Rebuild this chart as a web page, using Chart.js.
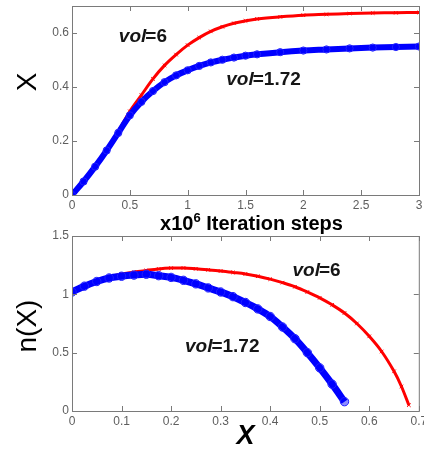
<!DOCTYPE html>
<html>
<head>
<meta charset="utf-8">
<script src="https://cdn.jsdelivr.net/npm/chart.js@4"></script>
<style>
  html, body { margin: 0; padding: 0; background: #fff; }
  #wrap { position: relative; width: 424px; height: 450px; overflow: hidden; }
  canvas { position: absolute; left: 0; }
  #topPlot { top: 0; }
  #bottomPlot { top: 225px; }
</style>
</head>
<body>
<div id="wrap">
  <canvas id="bottomPlot" width="424" height="225"></canvas>
  <canvas id="topPlot" width="424" height="240"></canvas>
</div>
<script>
// conversion X vs iteration steps (x10^6)
const steps = [0, 0.1, 0.2, 0.3, 0.4, 0.5, 0.6, 0.7, 0.8, 0.9, 1.0, 1.1, 1.2, 1.3, 1.4, 1.5, 1.6, 1.8, 2.0, 2.2, 2.4, 2.6, 2.8, 3.0];
const convVol6 = [0, 0.05, 0.105, 0.165, 0.235, 0.31, 0.37, 0.43, 0.48, 0.52, 0.555, 0.583, 0.606, 0.623, 0.636, 0.645, 0.652, 0.66, 0.666, 0.669, 0.672, 0.674, 0.675, 0.676];
const convVol172 = [0, 0.05, 0.105, 0.165, 0.23, 0.295, 0.345, 0.385, 0.418, 0.443, 0.462, 0.478, 0.491, 0.501, 0.509, 0.516, 0.521, 0.529, 0.535, 0.539, 0.543, 0.546, 0.548, 0.55];

// n(X) vs X
const xVol6 = [0, 0.025, 0.05, 0.075, 0.1, 0.125, 0.15, 0.175, 0.2, 0.225, 0.25, 0.275, 0.3, 0.325, 0.35, 0.375, 0.4, 0.425, 0.45, 0.475, 0.5, 0.525, 0.55, 0.575, 0.6, 0.625, 0.65, 0.665, 0.68];
const nVol6 = [1.02, 1.06, 1.1, 1.145, 1.175, 1.19, 1.205, 1.218, 1.225, 1.226, 1.219, 1.21, 1.2, 1.188, 1.175, 1.155, 1.13, 1.1, 1.065, 1.02, 0.97, 0.91, 0.84, 0.75, 0.64, 0.51, 0.34, 0.21, 0.05];
const xVol172 = [0, 0.025, 0.05, 0.075, 0.1, 0.125, 0.15, 0.175, 0.2, 0.225, 0.25, 0.275, 0.3, 0.325, 0.35, 0.375, 0.4, 0.425, 0.45, 0.475, 0.5, 0.525, 0.55];
const nVol172 = [1.02, 1.07, 1.11, 1.14, 1.155, 1.165, 1.172, 1.16, 1.145, 1.12, 1.09, 1.055, 1.02, 0.98, 0.93, 0.875, 0.81, 0.72, 0.62, 0.5, 0.37, 0.23, 0.08];

// tick values
const stepTicks = [0, 0.5, 1, 1.5, 2, 2.5, 3];
const convTicks = [0, 0.2, 0.4, 0.6];
const xTicks = [0, 0.1, 0.2, 0.3, 0.4, 0.5, 0.6, 0.7];
const nTicks = [0, 0.5, 1, 1.5];

const SANS = '"Liberation Sans", Arial, sans-serif';
const RED = '#ff0000';
const BLUE = '#0000ff';

const pairs = (xs, ys) => xs.map((x, i) => ({ x: x, y: ys[i] }));

// box + inward ticks on all four sides
const frame = {
  id: 'frame',
  afterDatasetsDraw(chart) {
    const { ctx, chartArea: a, scales } = chart;
    ctx.save();
    ctx.strokeStyle = '#7a7a7a';
    ctx.lineWidth = 1;
    ctx.strokeRect(a.left + 0.5, a.top + 0.5, a.right - a.left, a.bottom - a.top);
    ctx.beginPath();
    scales.x.ticks.forEach(t => {
      const px = Math.round(scales.x.getPixelForValue(t.value)) + 0.5;
      ctx.moveTo(px, a.bottom); ctx.lineTo(px, a.bottom - 5);
      ctx.moveTo(px, a.top); ctx.lineTo(px, a.top + 5);
    });
    scales.y.ticks.forEach(t => {
      const py = Math.round(scales.y.getPixelForValue(t.value)) + 0.5;
      ctx.moveTo(a.left, py); ctx.lineTo(a.left + 5, py);
      ctx.moveTo(a.right, py); ctx.lineTo(a.right - 5, py);
    });
    ctx.stroke();
    ctx.restore();
  }
};

// "vol=..." labels, anchored in data units
function volLabel(ctx, px, py, value) {
  ctx.textAlign = 'left';
  ctx.textBaseline = 'middle';
  ctx.fillStyle = '#151515';
  ctx.font = 'italic bold 19px ' + SANS;
  ctx.fillText('vol', px, py);
  const w = ctx.measureText('vol').width;
  ctx.font = 'bold 19px ' + SANS;
  ctx.fillText('=' + value, px + w - 1, py);
}

function notes(id, list, extra) {
  return {
    id: id,
    afterDraw(chart) {
      const { ctx, scales } = chart;
      ctx.save();
      list.forEach(n => volLabel(ctx, scales.x.getPixelForValue(n.x), scales.y.getPixelForValue(n.y), n.vol));
      extra(ctx, chart.chartArea);
      ctx.restore();
    }
  };
}

function rotatedText(ctx, text, cx, cy, font) {
  ctx.save();
  ctx.translate(cx, cy);
  ctx.rotate(-Math.PI / 2);
  ctx.font = font;
  ctx.textAlign = 'center';
  ctx.textBaseline = 'middle';
  ctx.fillStyle = '#000';
  ctx.fillText(text, 0, 0);
  ctx.restore();
}

function axisOptions(tickValues, min, max, size) {
  return {
    type: 'linear',
    min: min,
    max: max,
    grid: { display: false, drawTicks: false },
    border: { display: false },
    ticks: {
      color: '#5e5e5e',
      font: { size: 12, family: SANS },
      padding: 3,
      maxRotation: 0,
      autoSkip: false,
      callback: v => String(v)
    },
    afterBuildTicks: s => { s.ticks = tickValues.map(v => ({ value: v })); },
    afterFit: s => {
      if (s.isHorizontal()) { s.height = size; s.paddingLeft = 0; s.paddingRight = 0; }
      else { s.width = size; s.paddingTop = 0; s.paddingBottom = 0; }
    }
  };
}

// red 'x' markers drawn under the blue 'o' band
const redStyle = {
  order: 2,
  borderColor: RED,
  borderWidth: 3,
  pointStyle: 'crossRot',
  pointRadius: 2.5,
  pointBorderColor: RED,
  pointBorderWidth: 1,
  showLine: true,
  tension: 0.35
};
const blueStyle = {
  order: 1,
  borderColor: BLUE,
  borderWidth: 6,
  pointStyle: 'circle',
  pointRadius: 3.6,
  pointBorderColor: '#1f1fff',
  pointBackgroundColor: 'rgba(0,0,255,0.45)',
  pointBorderWidth: 1,
  showLine: true,
  tension: 0.35
};

const baseOptions = {
  responsive: false,
  animation: false,
  events: [],
  plugins: { legend: { display: false }, tooltip: { enabled: false } }
};

new Chart(document.getElementById('topPlot'), {
  type: 'scatter',
  data: {
    datasets: [
      Object.assign({ label: 'vol=6', data: pairs(steps, convVol6) }, redStyle),
      Object.assign({ label: 'vol=1.72', data: pairs(steps, convVol172) }, blueStyle)
    ]
  },
  options: Object.assign({}, baseOptions, {
    layout: { padding: { left: 0, right: 2, top: 6, bottom: 0 } },
    scales: {
      x: axisOptions(stepTicks, 0, 3, 45),
      y: axisOptions(convTicks, 0, 0.7, 72)
    }
  }),
  plugins: [frame, notes('topNotes', [
    { x: 0.405, y: 0.586, vol: '6' },
    { x: 1.334, y: 0.427, vol: '1.72' }
  ], (ctx, a) => {
    rotatedText(ctx, 'X', 28, 82, '28px ' + SANS);
    // x10^6 Iteration steps
    const big = 'bold 20px ' + SANS, small = 'bold 13px ' + SANS;
    ctx.font = big;
    const w1 = ctx.measureText('x10').width;
    const w3 = ctx.measureText(' Iteration steps').width;
    ctx.font = small;
    const w2 = ctx.measureText('6').width;
    let x = (a.left + a.right) / 2 + 6 - (w1 + w2 + w3) / 2;
    const base = 230;
    ctx.fillStyle = '#000';
    ctx.textAlign = 'left';
    ctx.textBaseline = 'alphabetic';
    ctx.font = big; ctx.fillText('x10', x, base); x += w1;
    ctx.font = small; ctx.fillText('6', x, base - 8); x += w2;
    ctx.font = big; ctx.fillText(' Iteration steps', x, base);
  })]
});

new Chart(document.getElementById('bottomPlot'), {
  type: 'scatter',
  data: {
    datasets: [
      Object.assign({ label: 'vol=6', data: pairs(xVol6, nVol6) }, redStyle),
      Object.assign({ label: 'vol=1.72', data: pairs(xVol172, nVol172) }, blueStyle, { borderWidth: 7, pointRadius: 4.2 })
    ]
  },
  options: Object.assign({}, baseOptions, {
    layout: { padding: { left: 0, right: 2, top: 11, bottom: 0 } },
    scales: {
      x: axisOptions(xTicks, 0, 0.7, 39),
      y: axisOptions(nTicks, 0, 1.5, 72)
    }
  }),
  plugins: [frame, notes('bottomNotes', [
    { x: 0.445, y: 1.206, vol: '6' },
    { x: 0.228, y: 0.548, vol: '1.72' }
  ], (ctx, a) => {
    rotatedText(ctx, 'n(X)', 28, 101, '28px ' + SANS);
    ctx.font = 'italic bold 27px ' + SANS;
    ctx.fillStyle = '#000';
    ctx.textAlign = 'center';
    ctx.textBaseline = 'middle';
    ctx.fillText('X', (a.left + a.right) / 2, 212);
  })]
});
</script>
</body>
</html>
